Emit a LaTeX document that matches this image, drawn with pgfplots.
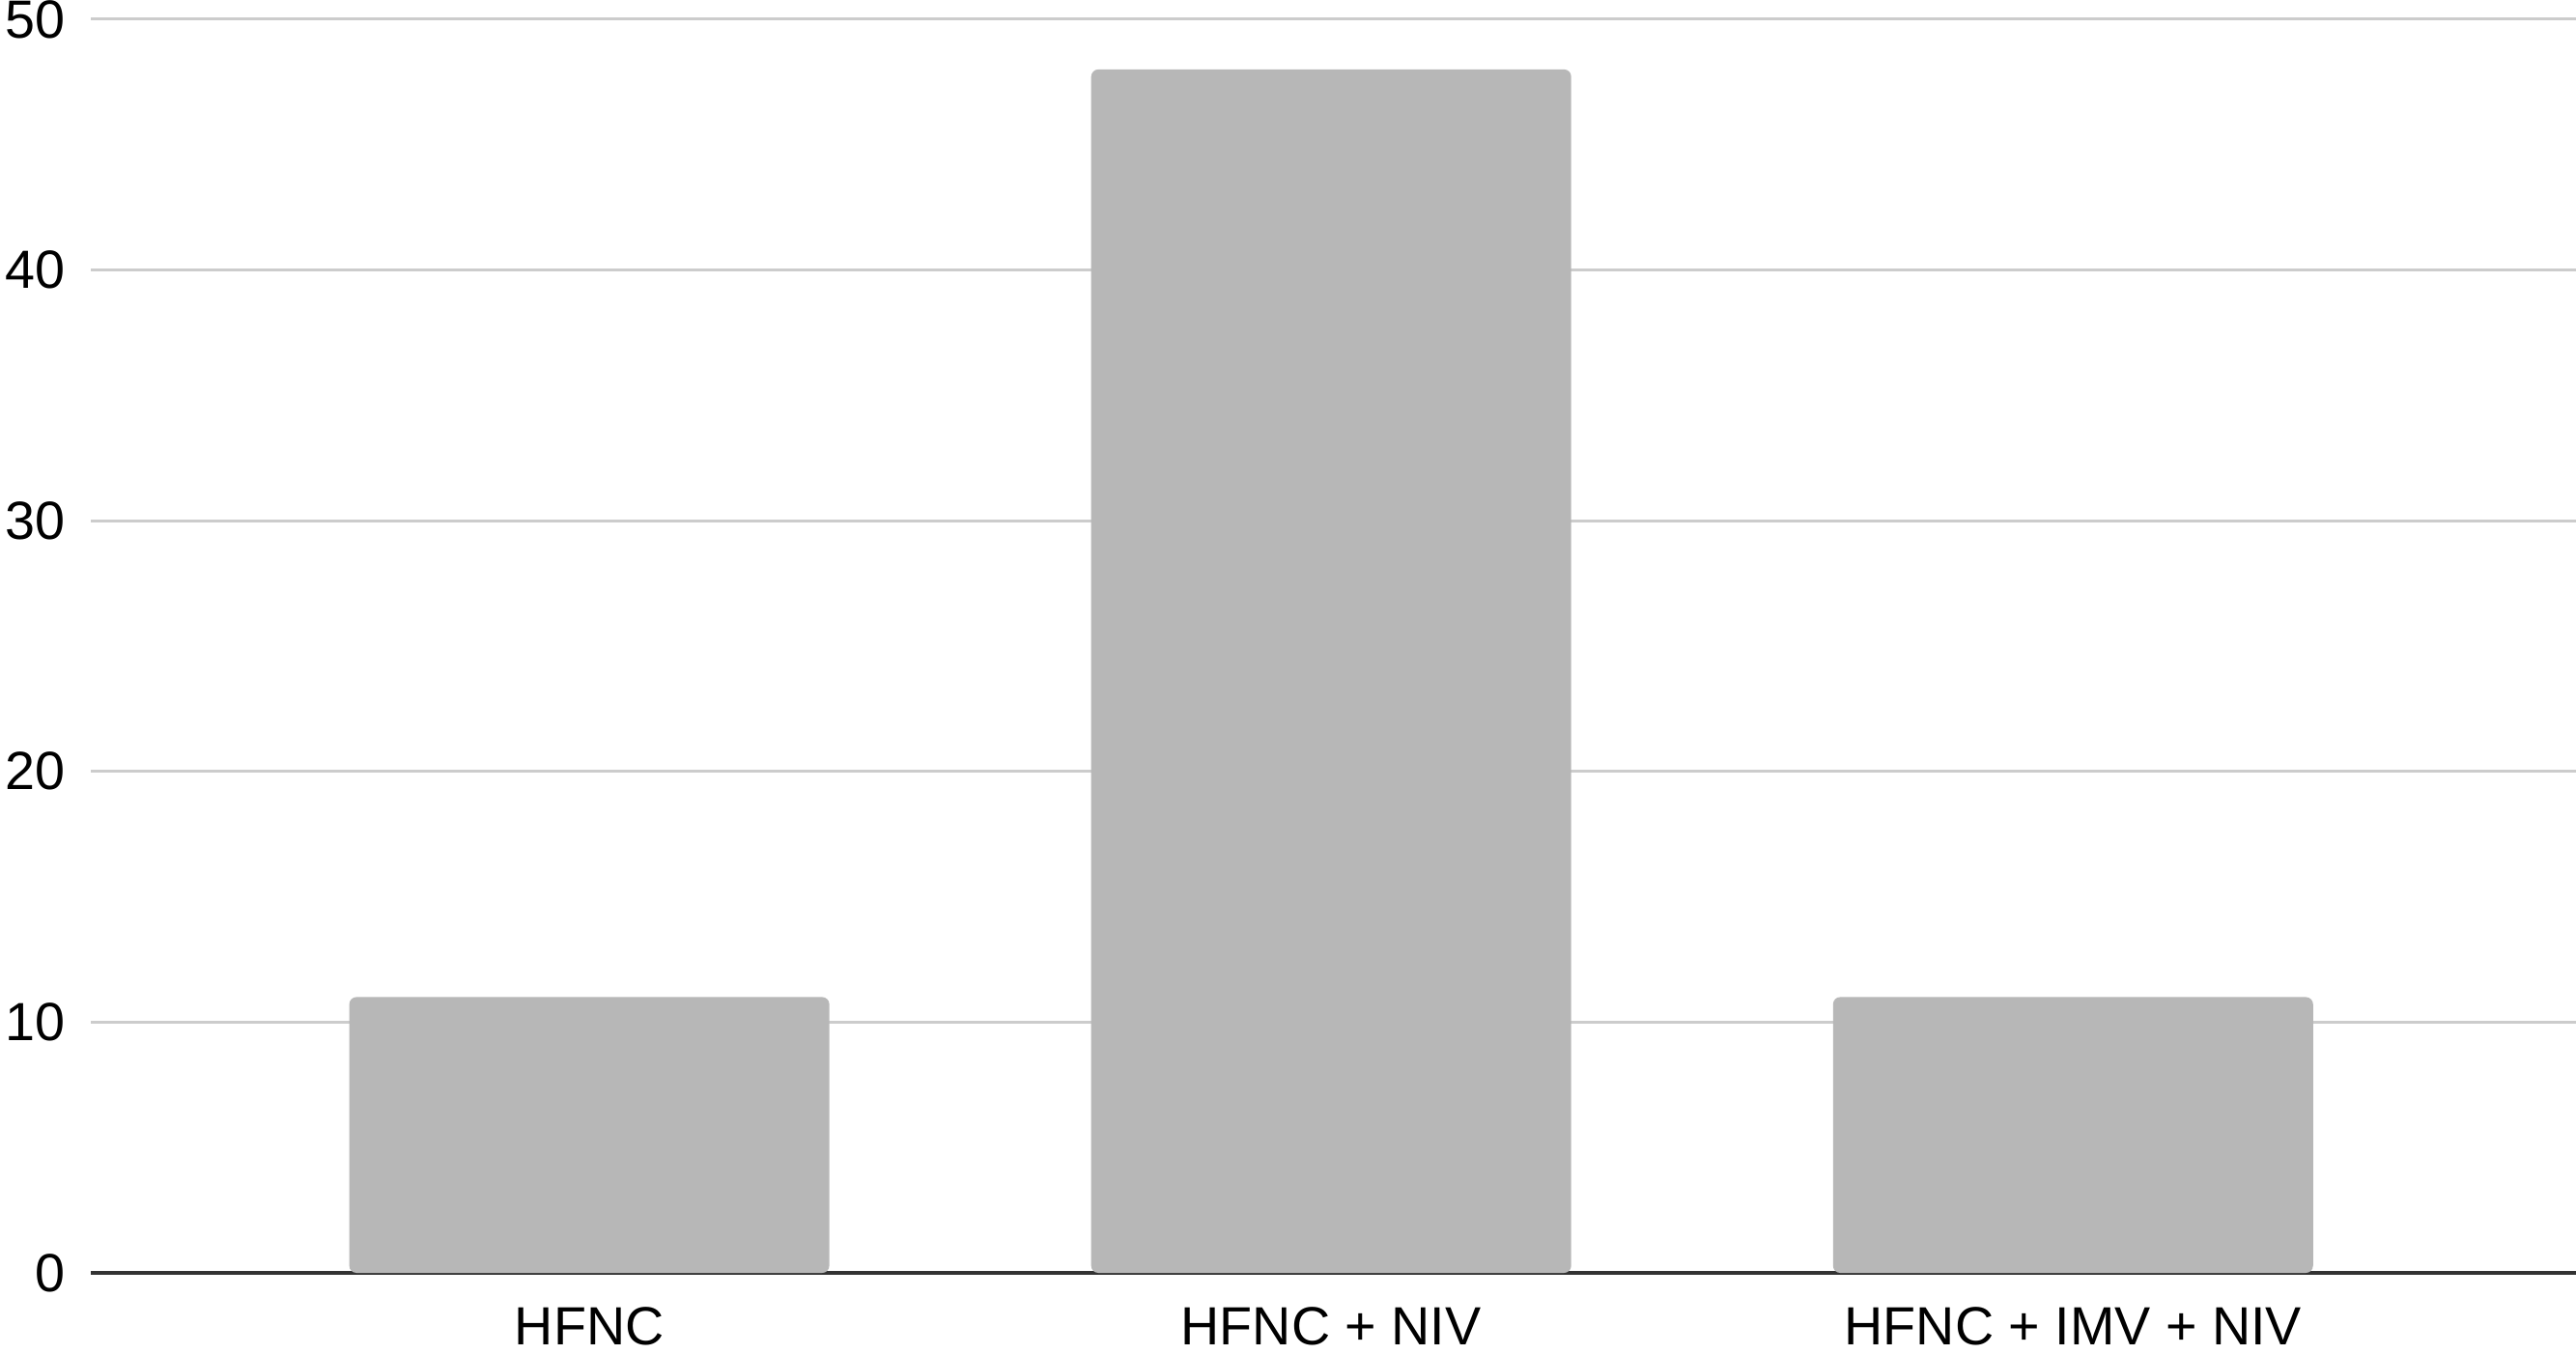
\documentclass[border=0pt]{standalone}
\usepackage{pgfplots}
\pgfplotsset{compat=1.18}
\usepackage{fontspec}
\setmainfont{Liberation Sans}
\definecolor{barc}{HTML}{B7B7B7}
\definecolor{gridc}{HTML}{CCCCCC}
\definecolor{axc}{HTML}{333333}
\begin{document}
\begin{tikzpicture}
\path[use as bounding box] (0,0) rectangle (800.1pt,420.3pt);
\begin{axis}[
  at={(28.2pt,24.9pt)}, anchor=south west,
  scale only axis, width=771.9pt, height=389.4pt,
  xmin=-0.672, xmax=2.678, ymin=0, ymax=50,
  axis x line=bottom, axis y line=left,
  x axis line style={axc, line width=1.2pt, -},
  y axis line style={draw=none},
  xtick={0,1,2}, xticklabels={HFNC, HFNC + NIV, HFNC + IMV + NIV},
  ytick={10,20,30,40,50},
  extra y ticks={0}, extra y tick style={grid=none},
  ymajorgrids, grid style={gridc, line width=0.9pt},
  major tick length=0pt,
  tick label style={font=\fontsize{16.7}{19}\selectfont},
  /pgf/number format/assume math mode=true,
  yticklabel style={xshift=-4.5pt},
  xticklabel style={yshift=-7.2pt},
  ybar, bar width=0.647,
  clip=false,
]
\addplot[fill=barc, draw=none, rounded corners=2.2pt] coordinates {(0,11) (1,48) (2,11)};
\end{axis}
\end{tikzpicture}
\end{document}
